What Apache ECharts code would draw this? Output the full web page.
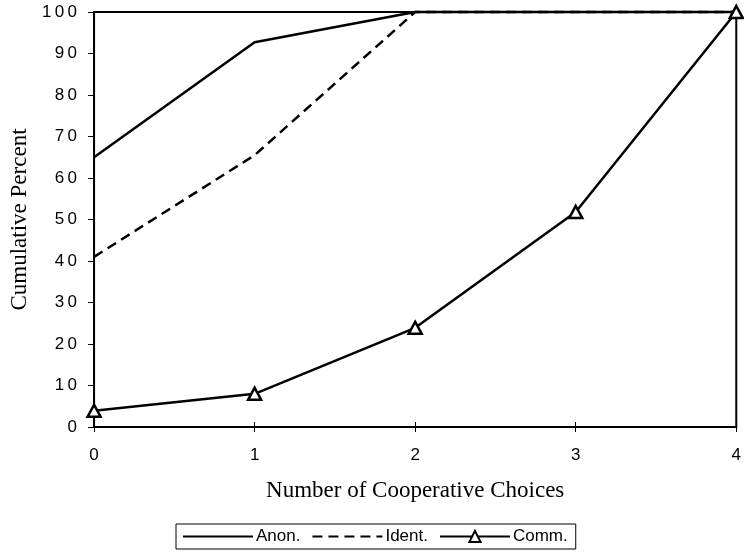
<!DOCTYPE html>
<html>
<head>
<meta charset="utf-8">
<script src="https://cdn.jsdelivr.net/npm/echarts@6/dist/echarts.min.js"></script>
<style>html,body{margin:0;padding:0;background:#fff}#c{width:744px;height:557px}</style>
</head>
<body>
<div id="c"></div>
<script>
var xValues = [0, 1, 2, 3, 4];
var anon = [65, 92.7, 100, 100, 100];
var ident = [41, 65.5, 100, 100, 100];
var comm = [3.9, 8, 23.9, 51.8, 100];
var seriesNames = ['Anon.', 'Ident.', 'Comm.'];

function pairs(vals) { return xValues.map(function (x, i) { return [x, vals[i]]; }); }
function spaced(v) { return String(v).split('').join('\u2009'); }

var chart = echarts.init(document.getElementById('c'), null, {renderer: 'canvas'});
var axisFont = {fontFamily: 'Liberation Sans, Arial, sans-serif', fontSize: 17, color: '#000'};
var nameFont = {fontFamily: 'Liberation Serif, Times New Roman, serif', fontSize: 23, color: '#000'};
var hidden = {color: 'transparent', borderColor: 'transparent', borderWidth: 0, opacity: 0};
chart.setOption({
  animation: false,
  backgroundColor: '#fff',
  grid: {left: 93, right: 4, top: 12, bottom: 130, show: true, borderColor: '#000', borderWidth: 2, backgroundColor: 'transparent'},
  legend: {
    data: [
      {name: seriesNames[0], itemStyle: hidden},
      {name: seriesNames[1], itemStyle: hidden},
      {name: seriesNames[2]}
    ],
    left: 176, top: 524,
    borderColor: '#000', borderWidth: 1,
    padding: [4, 8, 4, 6],
    itemWidth: 70, itemHeight: 14, itemGap: 11,
    textStyle: {fontFamily: 'Liberation Sans, Arial, sans-serif', fontSize: 17, color: '#000', padding: [0, 0, 0, -2]}
  },
  xAxis: [{
    type: 'value', min: 0, max: 4, interval: 1,
    name: 'Number of Cooperative Choices', nameLocation: 'middle', nameGap: 52,
    nameTextStyle: nameFont,
    axisLine: {show: true, onZero: false, lineStyle: {color: '#000', width: 2}},
    axisTick: {show: true, length: 5, lineStyle: {color: '#000', width: 1}},
    axisLabel: Object.assign({margin: 20, formatter: spaced}, axisFont),
    splitLine: {show: false}
  }, {
    type: 'value', min: 0, max: 4, interval: 1, position: 'bottom',
    axisLine: {show: false},
    axisTick: {show: true, inside: true, length: 5, lineStyle: {color: '#000', width: 1}},
    axisLabel: {show: false}, splitLine: {show: false}
  }],
  yAxis: {
    type: 'value', min: 0, max: 100, interval: 10,
    name: 'Cumulative Percent', nameLocation: 'middle', nameGap: 62,
    nameTextStyle: nameFont,
    axisLine: {show: true, lineStyle: {color: '#000', width: 2}},
    axisTick: {show: true, length: 6, lineStyle: {color: '#000', width: 1}},
    axisLabel: Object.assign({margin: 17, formatter: spaced}, axisFont),
    splitLine: {show: false}
  },
  series: [{
    name: seriesNames[0], type: 'line', data: pairs(anon), showSymbol: false, symbol: 'none',
    lineStyle: {color: '#000', width: 2.5}, itemStyle: {color: '#000'}, clip: false
  }, {
    name: seriesNames[1], type: 'line', data: pairs(ident), showSymbol: false, symbol: 'none',
    lineStyle: {color: '#000', width: 2.5, type: [10, 6]}, itemStyle: {color: '#000'}, clip: false
  }, {
    name: seriesNames[2], type: 'line', data: pairs(comm), symbol: 'triangle', symbolSize: [13, 12],
    lineStyle: {color: '#000', width: 2.5}, itemStyle: {color: '#fff', borderColor: '#000', borderWidth: 2.5}, clip: false, z: 3
  }]
});
</script>
</body>
</html>
